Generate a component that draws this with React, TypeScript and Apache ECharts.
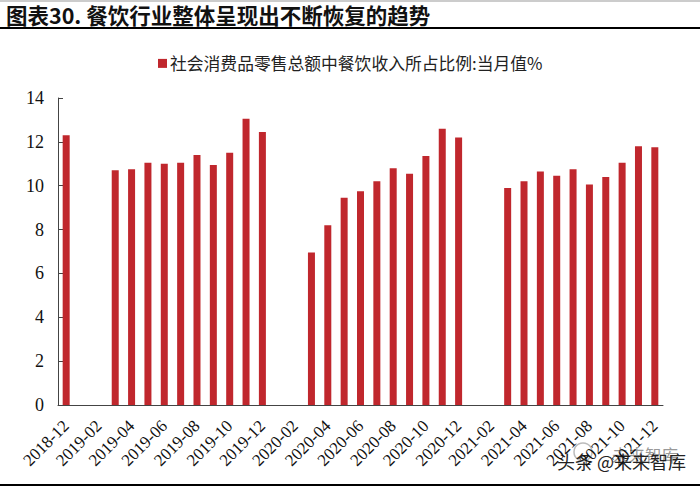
import React, { useEffect, useRef } from "react";
import * as echarts from "echarts";

const months = ["2018-12","2019-01","2019-02","2019-03","2019-04","2019-05","2019-06","2019-07","2019-08","2019-09","2019-10","2019-11","2019-12","2020-01","2020-02","2020-03","2020-04","2020-05","2020-06","2020-07","2020-08","2020-09","2020-10","2020-11","2020-12","2021-01","2021-02","2021-03","2021-04","2021-05","2021-06","2021-07","2021-08","2021-09","2021-10","2021-11","2021-12"];
const values = [12.3,null,null,10.7,10.75,11.05,11.0,11.05,11.4,10.95,11.5,13.05,12.45,null,null,6.95,8.2,9.45,9.75,10.2,10.8,10.55,11.35,12.6,12.2,null,null,9.9,10.2,10.65,10.45,10.75,10.05,10.4,11.05,11.8,11.75];
const seriesName = "社会消费品零售总额中餐饮收入所占比例:当月值%";
const titleText = "图表30. 餐饮行业整体呈现出不断恢复的趋势";
const serif = "Liberation Serif";
const cjk = "Noto Sans CJK SC";

export default function App() {
  const ref = useRef<HTMLDivElement>(null);
  useEffect(() => {
    const chart = echarts.init(ref.current!, null, { renderer: "svg" });
    chart.setOption({
      animation: false,
      backgroundColor: "#fff",
      legend: {
        top: 50, left: 153, itemWidth: 9, itemHeight: 9, itemGap: 4,
        icon: "rect",
        textStyle: { fontFamily: cjk, fontSize: 16.8, color: "#222", padding: [0,0,0,-2] },
        data: [seriesName],
      },
      grid: { left: 58, right: 37, top: 98, bottom: 82 },
      xAxis: {
        type: "category", data: months,
        axisLine: { lineStyle: { color: "#444", width: 1 } },
        axisTick: { show: false },
        axisLabel: { interval: 1, rotate: 45, margin: 18, fontFamily: serif, fontSize: 17, color: "#111" },
      },
      yAxis: {
        type: "value", min: 0, max: 14, interval: 2,
        splitLine: { show: false },
        axisLine: { show: true, lineStyle: { color: "#444", width: 1 } },
        axisTick: { show: true, inside: true, length: 5, lineStyle: { color: "#444" } },
        axisLabel: { margin: 14, fontFamily: serif, fontSize: 18, color: "#111" },
      },
      series: [{ type: "bar", name: seriesName, data: values, barWidth: 7, itemStyle: { color: "#C0272D" } }],
      graphic: [
        { type: "rect", shape: { x: 0, y: 0, width: 700, height: 2 }, style: { fill: "#ccc" } },
        { type: "text", x: 6, y: 14, style: { text: titleText, fontFamily: cjk, fontWeight: "bold", fontSize: 21.5, fill: "#111", textVerticalAlign: "middle" } },
        { type: "rect", shape: { x: 0, y: 27, width: 700, height: 2 }, style: { fill: "#000" } },
        { type: "rect", shape: { x: 0, y: 484, width: 700, height: 2 }, style: { fill: "#000" } },
        { type: "circle", shape: { cx: 583, cy: 452, r: 9 }, style: { fill: "#fff", stroke: "#bbb", lineWidth: 1.5 } },
        { type: "text", x: 612, y: 447, style: { text: "未来智库", fontFamily: cjk, fontSize: 16.5, fill: "#999" } },
        { type: "text", x: 557, y: 452, style: { text: "头条 @来来智库", fontFamily: cjk, fontSize: 18, fill: "#222" } },
      ],
    });
    return () => chart.dispose();
  }, []);
  return <div ref={ref} style={{ position: "fixed", left: 0, top: 0, width: 700, height: 487 }} />;
}
